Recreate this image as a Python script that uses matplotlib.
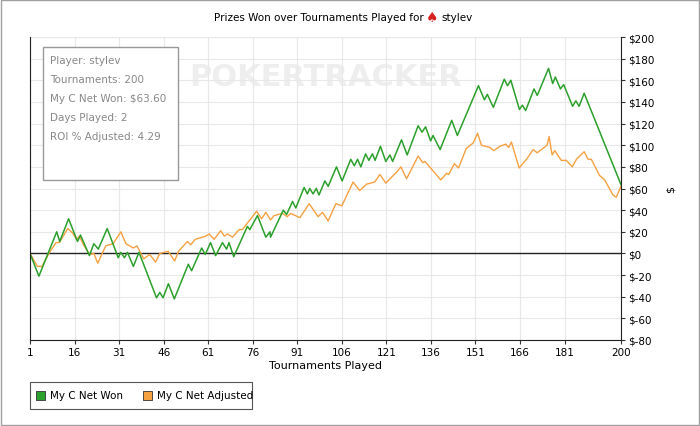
import matplotlib
matplotlib.use("Agg")
import matplotlib.pyplot as plt
from matplotlib.patches import Rectangle

net_t = [1,4,10,11,14,17,18,21,22.5,24,27,30.7,31.6,32.8,33.8,35.8,37.7,43.6,44.7,45.8,47.6,49.6,54.3,55.4,58.8,60,61.8,63.5,65.8,67.2,68,69.6,74.2,75,77.6,80.4,81.8,82,86.3,87.4,89.4,90.5,93.3,94.4,95.2,96.3,97.4,98.3,100.3,101.4,104.2,106.1,109,110.2,111.3,112.4,114,115.1,116.3,117.2,119,120.8,122.2,123.1,126.1,128,131.7,133,134.2,135.9,136.7,139.1,143,144.9,152,154,155,157,160.7,161.8,162.9,165.8,166.8,167.9,170.7,171.8,175.6,177,177.9,179.6,180.7,183.7,184.8,185.9,187.6,200]
net_v = [0,-21,20,11,32,11,17,-2,9,4,23,-4,1,-4,1,-12,1,-41,-36,-41,-28,-42,-10,-16,5,-1,10,-2,10,4,10,-3,25,22,35,15,20,15,40,36,48,42,61,55,60,55,60,54,67,62,80,67,87,81,87,80,92,86,92,86,99,85,91,85,105,91,118,112,117,104,109,96,123,109,155,142,147,135,161,155,160,133,137,132,152,146,171,157,163,152,156,136,141,136,148,63.6]

adj_t = [1,3.5,5,7.8,9.8,10.9,13.7,15.3,16.7,17.6,19,21.1,22.5,23.8,26.5,29,31.6,33.3,35.8,37,39.3,41.3,43.3,44.7,47.5,49.7,51,54,55.1,56.6,60.2,61.3,63,65.2,66.4,67.5,69.2,71.4,72.5,77.3,79,80.4,82,83.2,86,87.6,88.8,91.9,95,98,99.5,101.4,104,106,109.8,112,114.3,117.1,118.8,120.8,123.3,124.4,125.9,127.8,131.7,133.2,134,139.3,141.3,142,143.9,145.3,147.9,150.2,151.7,153,155.8,157.2,159.2,161.2,162.2,163.1,165.7,168.2,170.4,171.8,175.1,175.8,176.8,177.7,179.9,181.6,183.6,185,187.6,188.9,190,192.8,194.5,197.3,198.4,200]
adj_v = [0,-12,-12,2,10,10,23,19,13,16,8,-1,0,-9,7,9,20,9,5,7,-5,-1,-8,0,2,-7,2,11,8,13,16,18,13,21,16,18,15,22,22,39,32,38,31,35,37,34,37,33,46,34,38,30,46,44,66,58,64,66,73,65,72,75,80,69,90,84,85,68,74,73,83,79,97,102,111,100,98,95,99,101,98,103,79,87,96,93,100,108,91,95,86,86,80,87,94,87,87,72,68,54,52,62]

xticks = [1,16,31,46,61,76,91,106,121,136,151,166,181,200]
yticks = list(range(-80, 201, 20))
stats = ["Player: stylev", "Tournaments: 200", "My C Net Won: $63.60", "Days Played: 2", "ROI % Adjusted: 4.29"]
green = "#2ca02c"; orange = "#f5a142"

fig = plt.figure(figsize=(7, 4.27), dpi=100)
fig.patches.append(Rectangle((0.002, 0.002), 0.996, 0.995, transform=fig.transFigure,
                             fill=False, edgecolor="#a0a0a0", lw=1))
ax = fig.add_axes([30/700, 1-341/427, 591/700, 303/427])
ax.set_xlim(1, 200); ax.set_ylim(-80, 200)
ax.set_xticks(xticks); ax.set_yticks(yticks)
ax.set_yticklabels([("$-%d" % -v) if v < 0 else ("$%d" % v) for v in yticks], fontsize=7.5)
ax.set_xticklabels([str(t) for t in xticks], fontsize=7.5)
ax.yaxis.tick_right(); ax.yaxis.set_label_position("right")
ax.tick_params(length=3, width=0.8, color="#333333", pad=2)
ax.grid(True, color="#e8e8e8", lw=0.8)
ax.set_axisbelow(True)
ax.spines["top"].set_visible(False)
for s in ["left", "right", "bottom"]:
    ax.spines[s].set_color("#222222")
ax.axhline(0, color="#222222", lw=1)
ax.text(0.5, 0.868, "POKERTRACKER", transform=ax.transAxes, ha="center", va="center",
        fontsize=22, color="#eeeeee", fontweight="bold", zorder=0)
ax.plot(adj_t, adj_v, color=orange, lw=1.0)
ax.plot(net_t, net_v, color=green, lw=1.1)
ax.set_xlabel("Tournaments Played", fontsize=8, labelpad=2)
ax.set_ylabel("$", fontsize=8, rotation=90, labelpad=8)

ax.add_patch(Rectangle((13/591, 1-143/303), 135/591, 133/303, transform=ax.transAxes,
                       facecolor="white", edgecolor="#999999", lw=1, zorder=3))
for i, s in enumerate(stats):
    ax.text(20/591, 1-(23+i*19)/303, s, transform=ax.transAxes, fontsize=7.5,
            color="#888888", va="center", zorder=4)

ty = 1-18/427
fig.text(424/700, ty, "Prizes Won over Tournaments Played for", ha="right", va="center", fontsize=7.5)
fig.text(432/700, ty, "♠", ha="center", va="center", fontsize=10, color="#d62020")
fig.text(441/700, ty, "stylev", ha="left", va="center", fontsize=7.5)

fig.patches.append(Rectangle((30/700, 1-410/427), 222/700, 27/427, transform=fig.transFigure,
                             fill=False, edgecolor="#555555", lw=0.8))
for x0, col, lab in [(36, green, "My C Net Won"), (143, orange, "My C Net Adjusted")]:
    fig.patches.append(Rectangle((x0/700, 1-401/427), 9/700, 9/427, transform=fig.transFigure,
                                 facecolor=col, edgecolor="#333333", lw=0.6))
    fig.text((x0+14)/700, 1-396.5/427, lab, fontsize=7.5, va="center")

fig.savefig("out.png", dpi=100)
